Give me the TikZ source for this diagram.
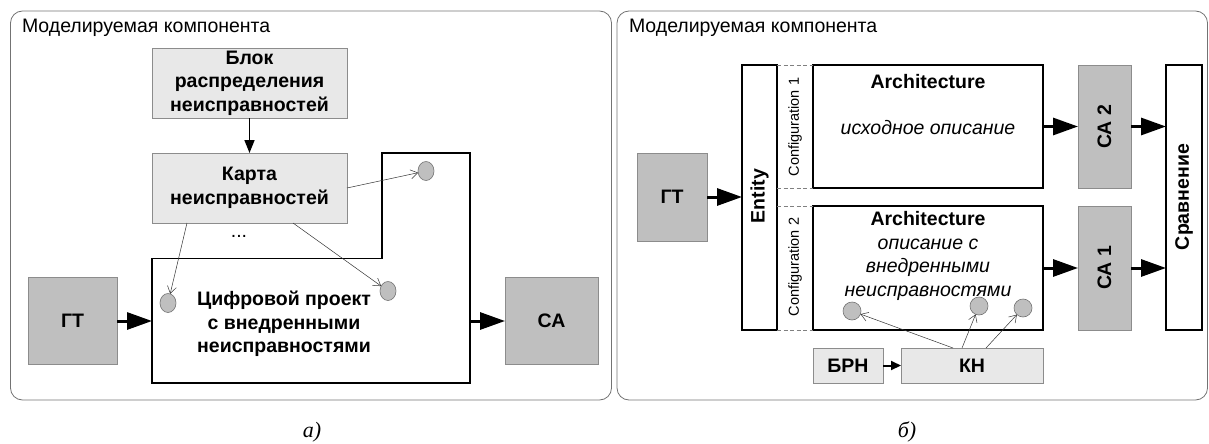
\documentclass[tikz,border=0pt]{standalone}
\usepackage{fontspec}
\setmainfont{Liberation Sans}
\newfontfamily\capfont{Liberation Serif}
\usetikzlibrary{arrows.meta,shapes.geometric}
\newcommand\bigtxt{\fontsize{19.5}{23.4}\selectfont}
\newcommand\smalltxt{\fontsize{14.5}{17}\selectfont}

\begin{document}
\begin{tikzpicture}[x=1pt,y=-1pt,
  every node/.style={inner sep=0pt, outer sep=0pt},
  panel/.style={draw=black!55, line width=0.8pt, rounded corners=12pt},
  darkbox/.style={draw=black!45, fill=black!25, line width=0.7pt, font=\bigtxt\bfseries, align=center},
  lightbox/.style={draw=black!45, fill=black!9, line width=0.7pt, font=\bigtxt\bfseries, align=center},
  whitebox/.style={draw=black, fill=white, line width=1.8pt},
  thickline/.style={draw=black, line width=1.8pt, line join=miter},
  bigarrow/.style={line width=3pt, -{Triangle[length=25pt,width=17pt]}},
  midarrow/.style={line width=1.6pt, -{Triangle[length=13pt,width=10pt]}},
  smallarrow/.style={line width=2pt, -{Triangle[length=10pt,width=9pt]}},
  thinarrow/.style={line width=0.5pt, draw=black!80, -{Straight Barb[length=7pt,width=9pt]}},
  fault/.style={ellipse, draw=black!55, fill=black!25, line width=0.6pt, minimum width=16pt, minimum height=19pt},
  cfgline/.style={draw=black!50, line width=0.6pt, dash pattern=on 4pt off 2.5pt},
  caption/.style={font=\capfont\itshape\fontsize{22}{26}\selectfont}
]
\useasboundingbox (0,0) rectangle (1209,444);

% ---------- panel (a) ----------
\draw[panel] (10.5,11) rectangle (611.5,400);
\node[anchor=base west, font=\bigtxt] (titleA) at (22,33) {Моделируемая компонента};

\node[lightbox, minimum width=195pt, minimum height=70pt] (blok) at (249.5,83)
  {Блок\\распределения\\неисправностей};
\node[lightbox, minimum width=195pt, minimum height=70pt] (karta) at (249.5,188)
  {Карта\\неисправностей};
\draw[midarrow] (blok) -- (karta);
\node[font=\bigtxt] (dots) at (239,236) {...};

% stepped outline of the design under test
\draw[thickline] (382,153) -- (470,153) -- (470,383) -- (152,383) -- (152,258.5) -- (382,258.5) -- cycle;
\coordinate (projin) at (152,321);
\coordinate (projout) at (470,321);
\node[font=\bigtxt\bfseries, align=center, text depth=0pt] (proj) at (284,322)
  {\fontsize{19.5}{25}\selectfont Цифровой проект\\с внедренными\\неисправностями};

\node[fault] (f1) at (426,171) {};
\node[fault] (f2) at (168,303) {};
\node[fault] (f3) at (388,291) {};
\draw[thinarrow] (karta.east) -- (f1);
\draw[thinarrow] ([xshift=-62.5pt]karta.south) -- (f2);
\draw[thinarrow] ([xshift=43.5pt]karta.south) -- (f3);

\node[darkbox, minimum width=89pt, minimum height=87pt] (gtA) at (72.5,321) {ГТ};
\node[darkbox, minimum width=93pt, minimum height=87pt] (caA) at (551.5,321) {СА};
\draw[bigarrow] (gtA.east) -- (projin);
\draw[bigarrow] (projout) -- (caA.west);

\node[caption] (labA) at (312,432) {а)};

% ---------- panel (b) ----------
\draw[panel] (617,11) rectangle (1207.5,400);
\node[anchor=base west, font=\bigtxt] (titleB) at (629,33) {Моделируемая компонента};

\node[darkbox, minimum width=70pt, minimum height=88pt] (gtB) at (672,197) {ГТ};
\node[whitebox, minimum width=35pt, minimum height=265pt] (entity) at (759.5,197.5) {};
\node[rotate=90, font=\bigtxt\bfseries] (entlabel) at (759.5,196) {Entity};
\draw[bigarrow] (gtB.east) -- (entity.west |- gtB.east);

\node[whitebox, minimum width=230pt, minimum height=123pt] (arch1) at (928,126.5) {};
\node[whitebox, minimum width=230pt, minimum height=124pt] (arch2) at (928,268) {};
\node[font=\bigtxt\bfseries] (a1title) at (928,82) {Architecture};
\node[font=\bigtxt\itshape] (a1text) at (928,128) {исходное описание};
\node[align=center, font=\bigtxt] (a2text) at (928,256)
  {\textbf{Architecture}\\\itshape описание с\\\itshape внедренными\\\itshape неисправностями};

% configuration bands
\draw[cfgline] (entity.north east) -- (arch1.north west);
\draw[cfgline] (entity.east |- arch1.south) -- (arch1.south west);
\draw[cfgline] (entity.east |- arch2.north) -- (arch2.north west);
\draw[cfgline] (entity.south east) -- (arch2.south west);
\node[rotate=90, font=\smalltxt] (cfg1) at (795,127) {Configuration 1};
\node[rotate=90, font=\smalltxt] (cfg2) at (795,267) {Configuration 2};

\node[darkbox, minimum width=53pt, minimum height=123pt] (ca2) at (1104.5,126.5) {};
\node[rotate=90, font=\bigtxt\bfseries] (ca2lab) at (1104.5,127) {СА 2};
\node[darkbox, minimum width=53pt, minimum height=124pt] (ca1) at (1104.5,268) {};
\node[rotate=90, font=\bigtxt\bfseries] (ca1lab) at (1104.5,268) {СА 1};
\node[whitebox, minimum width=36pt, minimum height=265pt] (cmp) at (1184,197.5) {};
\node[rotate=90, font=\bigtxt\bfseries] (cmplab) at (1184,197) {Сравнение};

\draw[bigarrow] (arch1.east) -- (ca2.west);
\draw[bigarrow] (arch2.east) -- (ca1.west);
\draw[bigarrow] (ca2.east) -- (cmp.west |- ca2.east);
\draw[bigarrow] (ca1.east) -- (cmp.west |- ca1.east);

\node[lightbox, minimum width=70pt, minimum height=35pt] (brn) at (848,365.5) {БРН};
\node[lightbox, minimum width=142pt, minimum height=35pt] (kn) at (972,365.5) {КН};
\draw[smallarrow] (brn.east) -- (kn.west);

\node[fault, minimum width=18pt, minimum height=18pt] (g1) at (852,311) {};
\node[fault, minimum width=18pt, minimum height=18pt] (g2) at (979,306) {};
\node[fault, minimum width=18pt, minimum height=18pt] (g3) at (1023,308) {};
\draw[thinarrow] ([xshift=-19pt]kn.north) -- (g1);
\draw[thinarrow] ([xshift=-10pt]kn.north) -- (g2);
\draw[thinarrow] ([xshift=14pt]kn.north) -- (g3);

\node[caption] (labB) at (907,432) {б)};
\end{tikzpicture}
\end{document}
